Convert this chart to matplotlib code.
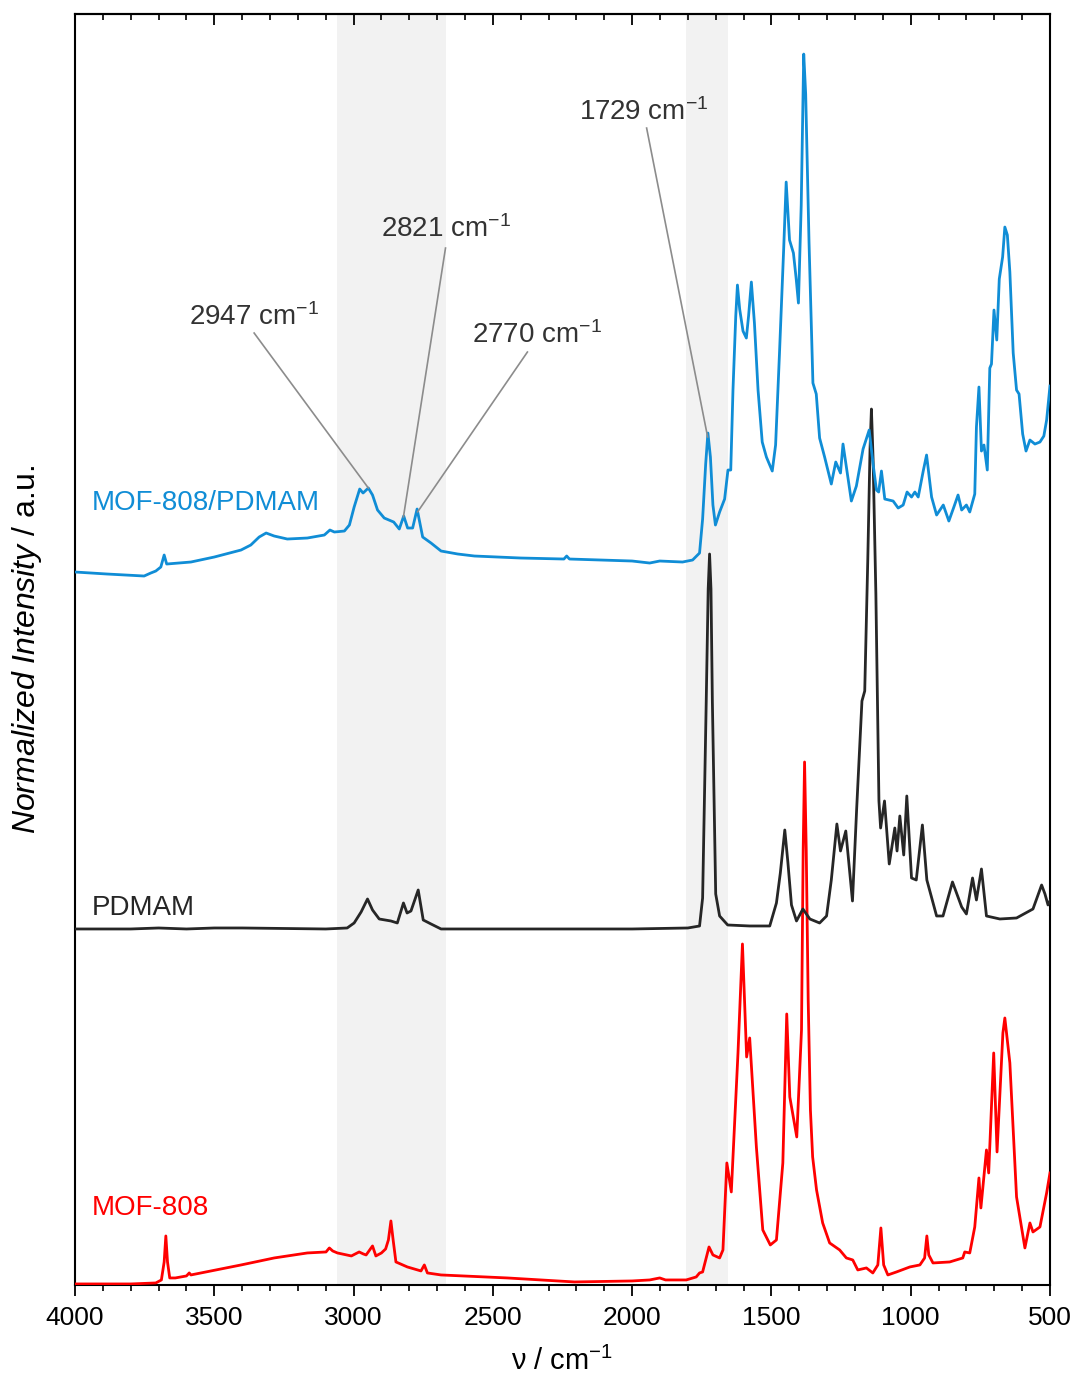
import numpy as np
import matplotlib
matplotlib.use("Agg")
import matplotlib.pyplot as plt
from matplotlib.ticker import MultipleLocator

plt.rcParams["font.family"] = ["Liberation Sans", "DejaVu Sans"]
plt.rcParams["mathtext.fontset"] = "custom"
plt.rcParams["mathtext.rm"] = "Liberation Sans"
plt.rcParams["mathtext.it"] = "Liberation Sans:italic"

# --- MOF-808 (red), normalized, baseline 0
wn_mof = [4000, 3800, 3710, 3690, 3680, 3674, 3668, 3660, 3640, 3600, 3590, 3584, 3404, 3285,
          3166, 3099, 3087, 3075, 3058, 3008, 2980, 2965, 2955, 2932, 2920, 2900, 2885, 2875,
          2866, 2858, 2848, 2807, 2758, 2746, 2735, 2686, 2448, 2207, 2000, 1937, 1901, 1880,
          1806, 1770, 1758, 1747, 1724, 1710, 1686, 1674, 1660, 1644, 1620, 1604, 1589, 1578,
          1554, 1531, 1504, 1482, 1459, 1445, 1434, 1409, 1392, 1386, 1381, 1375, 1368, 1360,
          1352, 1338, 1316, 1291, 1255, 1231, 1208, 1190, 1159, 1136, 1118, 1107, 1097, 1082,
          1051, 1003, 967, 950, 942, 935, 920, 860, 813, 806, 788, 770, 755, 748, 728, 720,
          702, 690, 669, 662, 644, 620, 590, 572, 561, 536, 512, 500]
int_mof = [0.00, 0.00, 0.01, 0.04, 0.22, 0.48, 0.22, 0.06, 0.06, 0.08, 0.11, 0.09, 0.19, 0.26,
           0.31, 0.32, 0.36, 0.33, 0.31, 0.28, 0.32, 0.30, 0.29, 0.38, 0.28, 0.31, 0.35, 0.44,
           0.63, 0.44, 0.22, 0.17, 0.13, 0.19, 0.11, 0.09, 0.06, 0.02, 0.03, 0.04, 0.06, 0.04,
           0.04, 0.07, 0.11, 0.12, 0.37, 0.29, 0.26, 0.34, 1.21, 0.92, 2.31, 3.40, 2.27, 2.46,
           1.37, 0.54, 0.39, 0.44, 1.21, 2.70, 1.87, 1.47, 2.54, 4.34, 5.22, 4.34, 2.84, 1.74,
           1.27, 0.94, 0.61, 0.41, 0.34, 0.26, 0.24, 0.14, 0.16, 0.11, 0.19, 0.56, 0.19, 0.09,
           0.12, 0.17, 0.19, 0.26, 0.48, 0.29, 0.21, 0.22, 0.26, 0.32, 0.31, 0.57, 1.06, 0.76,
           1.34, 1.11, 2.31, 1.32, 2.51, 2.66, 2.21, 0.87, 0.36, 0.61, 0.52, 0.57, 0.91, 1.11]

# --- PDMAM (black)
wn_pd = [4000, 3800, 3700, 3600, 3500, 3400, 3100, 3023, 2998, 2973, 2950, 2932, 2908, 2866,
         2843, 2821, 2808, 2794, 2768, 2750, 2722, 2686, 2000, 1800, 1758, 1747, 1734, 1727,
         1722, 1717, 1712, 1700, 1686, 1657, 1578, 1506, 1482, 1468, 1452, 1441, 1428, 1410,
         1387, 1362, 1327, 1302, 1285, 1265, 1252, 1233, 1209, 1194, 1175, 1165, 1154, 1146,
         1141, 1135, 1125, 1114, 1108, 1094, 1077, 1057, 1049, 1039, 1025, 1014, 997, 980, 958,
         942, 907, 884, 850, 817, 800, 778, 764, 746, 728, 680, 620, 561, 530, 518, 507, 500]
int_pd = [0.00, 0.00, 0.01, 0.00, 0.01, 0.01, 0.00, 0.01, 0.06, 0.17, 0.30, 0.19, 0.10, 0.08,
          0.06, 0.26, 0.16, 0.18, 0.39, 0.09, 0.05, 0.00, 0.00, 0.01, 0.03, 0.31, 2.28, 3.40,
          3.75, 3.40, 2.28, 0.35, 0.13, 0.04, 0.03, 0.03, 0.26, 0.56, 0.99, 0.67, 0.24, 0.08,
          0.20, 0.10, 0.06, 0.13, 0.49, 1.05, 0.78, 0.98, 0.28, 1.20, 2.28, 2.38, 3.70, 4.80,
          5.20, 4.70, 3.35, 1.28, 1.01, 1.28, 0.65, 1.01, 0.78, 1.13, 0.74, 1.33, 0.51, 0.49, 1.04,
          0.49, 0.13, 0.13, 0.47, 0.22, 0.15, 0.51, 0.29, 0.60, 0.13, 0.10, 0.11, 0.20, 0.44, 0.35,
          0.24, 0.28]

# --- MOF-808/PDMAM (blue)
wn_comp = [4000, 3885, 3752, 3728, 3710, 3692, 3680, 3671, 3584, 3500, 3404, 3369, 3339, 3314,
           3285, 3238, 3166, 3105, 3085, 3069, 3033, 3015, 2998, 2978, 2966, 2947, 2932, 2914,
           2890, 2856, 2836, 2820, 2806, 2788, 2772, 2752, 2722, 2686, 2626, 2566, 2400, 2245,
           2235, 2225, 2000, 1937, 1901, 1819, 1783, 1758, 1747, 1736, 1728, 1719, 1710, 1701,
           1686, 1668, 1656, 1646, 1638, 1628, 1622, 1614, 1602, 1590, 1582, 1572, 1561, 1548,
           1533, 1518, 1497, 1485, 1471, 1456, 1447, 1435, 1421, 1411, 1403, 1393, 1384, 1377,
           1365, 1351, 1339, 1327, 1309, 1285, 1269, 1252, 1243, 1213, 1195, 1171, 1149, 1135,
           1123, 1115, 1105, 1093, 1063, 1045, 1027, 1013, 997, 985, 973, 955, 943, 925, 907,
           883, 863, 845, 830, 817, 800, 788, 770, 764, 755, 746, 737, 725, 716, 710, 701, 691,
           682, 670, 662, 653, 644, 632, 620, 611, 598, 586, 572, 554, 536, 522, 512, 500]
int_comp = [0.02, 0.00, -0.02, 0.01, 0.03, 0.07, 0.19, 0.10, 0.12, 0.17, 0.24, 0.29, 0.37, 0.41,
            0.38, 0.35, 0.36, 0.39, 0.44, 0.42, 0.43, 0.49, 0.67, 0.85, 0.81, 0.86, 0.79, 0.64,
            0.56, 0.52, 0.45, 0.58, 0.46, 0.46, 0.65, 0.37, 0.31, 0.23, 0.20, 0.18, 0.16, 0.15,
            0.18, 0.15, 0.13, 0.11, 0.13, 0.12, 0.14, 0.21, 0.55, 1.10, 1.41, 1.17, 0.69, 0.49,
            0.62, 0.75, 1.04, 1.04, 1.84, 2.58, 2.89, 2.65, 2.43, 2.36, 2.58, 2.92, 2.51, 1.84,
            1.32, 1.17, 1.03, 1.29, 2.21, 3.25, 3.92, 3.34, 3.21, 2.95, 2.71, 3.69, 5.20, 4.80,
            3.32, 1.91, 1.80, 1.36, 1.17, 0.90, 1.12, 1.01, 1.30, 0.73, 0.88, 1.25, 1.44, 1.10,
            0.84, 0.82, 1.03, 0.75, 0.73, 0.66, 0.69, 0.82, 0.77, 0.82, 0.77, 1.03, 1.19, 0.77, 0.59,
            0.69, 0.53, 0.67, 0.79, 0.64, 0.69, 0.62, 0.80, 1.47, 1.87, 1.23, 1.29, 1.04, 2.06, 2.10, 2.64, 2.34,
            2.95, 3.17, 3.47, 3.39, 3.02, 2.21, 1.84, 1.80, 1.40, 1.23, 1.34, 1.30, 1.32, 1.38, 1.54, 1.88]

names = ["MOF-808", "PDMAM", "MOF-808/PDMAM"]
offsets = [0.0, 3.55, 7.10]
colors = ["#ff0000", "#262626", "#108dd6"]

# shaded regions (cm-1)
spans = [(3060, 2670), (1805, 1655)]

# annotated peaks of the composite
peaks = [2947, 2821, 2770, 1729]
peak_text = [(3357, 9.67), (2667, 10.55), (2340, 9.49), (1959, 11.72)]
peak_line_start = [(3357, 9.51), (2670, 10.36), (2376, 9.32), (1948, 11.56)]

fig = plt.figure(figsize=(10.78, 13.79), dpi=100)
ax = fig.add_axes([0.0696, 0.0682, 0.9044, 0.9216])

for a, b in spans:
    ax.axvspan(a, b, color="#f2f2f2", lw=0, zorder=0)

series = [(wn_mof, int_mof), (wn_pd, int_pd), (wn_comp, int_comp)]
for (wn, it), off, c in zip(series, offsets, colors):
    ax.plot(wn, np.array(it) + off, color=c, lw=2.0, zorder=3, solid_joinstyle="round")

label_y = [0.76, 3.76, 7.81]
for n, y, c in zip(names, label_y, colors):
    ax.text(3939, y, n, color=c, fontsize=20, ha="left", va="center")

wc = np.array(wn_comp)[::-1]; ic = np.array(int_comp)[::-1]
for p, (tx, ty), (lx, ly) in zip(peaks, peak_text, peak_line_start):
    py = np.interp(p, wc, ic) + offsets[2]
    ax.plot([lx, p], [ly, py], color="#8c8c8c", lw=1.2, zorder=4)
    ax.text(tx, ty, f"{p} cm$^{{-1}}$", color="#333333", fontsize=20, ha="center", va="center")

ax.set_xlim(4000, 500)
ax.set_ylim(-0.01, 12.70)
ax.set_yticks([])
ax.xaxis.set_major_locator(MultipleLocator(500))
ax.xaxis.set_minor_locator(MultipleLocator(100))
ax.tick_params(axis="x", which="major", direction="out", length=8, width=1.3, labelsize=19, pad=7)
ax.tick_params(axis="x", which="minor", direction="out", length=4.5, width=1.2)
for s in ax.spines.values():
    s.set_linewidth(1.5)

sec = ax.secondary_xaxis("top")
sec.xaxis.set_major_locator(MultipleLocator(500))
sec.xaxis.set_minor_locator(MultipleLocator(100))
sec.tick_params(axis="x", which="major", direction="in", length=8, width=1.3, labeltop=False)
sec.tick_params(axis="x", which="minor", direction="in", length=4.5, width=1.2)
sec.spines["top"].set_linewidth(1.5)

ax.set_xlabel("ν / cm$^{-1}$", fontsize=21, labelpad=12)
ax.set_ylabel(r"$\mathit{Normalized\ Intensity}$ / a.u.", fontsize=23, labelpad=22)

fig.savefig("out.png", dpi=100)
